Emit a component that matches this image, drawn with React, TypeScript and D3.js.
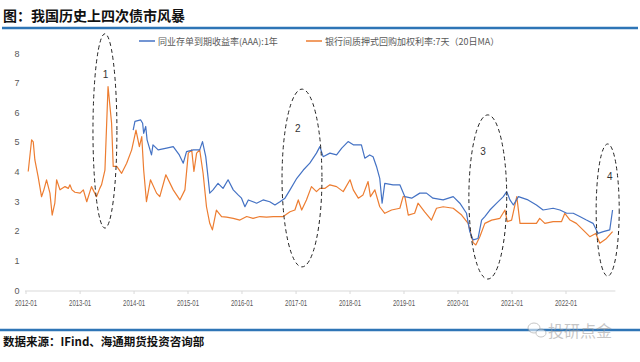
import React from "react";
import * as d3 from "d3";

const TITLE = "图：我国历史上四次债市风暴";
const SOURCE = "数据来源：IFind、海通期货投资咨询部";
const WATERMARK = "投研点金";
const SERIES_NAMES = ["同业存单到期收益率(AAA):1年", "银行间质押式回购加权利率:7天（20日MA）"];
const Y_TICKS = [0, 1, 2, 3, 4, 5, 6, 7, 8];
const X_TICKS = ["2012-01", "2013-01", "2014-01", "2015-01", "2016-01", "2017-01", "2018-01", "2019-01", "2020-01", "2021-01", "2022-01"];

// 同业存单到期收益率(AAA):1年
const ncdDates = [
  "2013-12-26", "2014-01-07", "2014-02-15", "2014-02-28", "2014-03-07", "2014-03-21", "2014-03-30", "2014-04-29",
  "2014-05-09", "2014-06-13", "2014-08-09", "2014-09-23", "2014-11-03", "2014-11-30", "2014-12-22", "2015-02-06",
  "2015-03-21", "2015-04-09", "2015-05-01", "2015-05-16", "2015-05-28", "2015-06-19", "2015-07-23", "2015-08-26",
  "2015-09-29", "2015-11-03", "2015-12-06", "2015-12-29", "2016-01-21", "2016-02-13", "2016-04-09", "2016-05-23",
  "2016-07-07", "2016-08-11", "2016-09-14", "2016-10-18", "2016-11-21", "2017-01-06", "2017-02-19", "2017-04-04",
  "2017-05-19", "2017-06-11", "2017-07-03", "2017-08-18", "2017-10-02", "2017-11-06", "2017-12-19", "2018-01-23",
  "2018-03-19", "2018-04-11", "2018-05-14", "2018-06-06", "2018-06-29", "2018-07-21", "2018-08-06", "2018-08-24",
  "2018-10-19", "2018-12-04", "2019-01-07", "2019-02-22", "2019-04-18", "2019-06-02", "2019-07-16", "2019-09-23",
  "2019-11-30", "2020-01-14", "2020-02-28", "2020-03-21", "2020-04-13", "2020-05-16", "2020-06-09", "2020-07-01",
  "2020-08-04", "2020-09-19", "2020-11-03", "2020-11-26", "2020-12-18", "2021-01-10", "2021-02-13", "2021-04-19",
  "2021-06-15", "2021-07-30", "2021-10-06", "2021-11-21", "2022-01-06", "2022-02-19", "2022-04-04", "2022-05-19",
  "2022-07-03", "2022-08-06", "2022-09-10", "2022-10-24", "2022-11-12",
];
const ncdValues = [
  5.4, 5.69, 5.74, 5.63, 5.29, 5.52, 5.07, 4.56,
  4.9, 4.73, 4.79, 4.84, 4.56, 4.28, 4.67, 4.73,
  4.73, 5.01, 4.5, 3.83, 3.27, 3.38, 3.6, 3.43,
  3.72, 3.38, 3.21, 3.1, 2.81, 3.04, 2.93, 3.04,
  2.98, 2.87, 2.98, 3.1, 3.38, 3.77, 4.05, 4.28,
  4.62, 4.84, 4.5, 4.62, 4.56, 4.79, 5.01, 4.9,
  4.9, 4.45, 4.56, 4.5, 4.17, 3.77, 2.93, 3.6,
  3.55, 3.55, 3.15, 3.1, 3.27, 3.27, 3.1, 3.04,
  3.15, 2.93, 2.59, 1.97, 1.69, 1.74, 2.36, 2.48,
  2.7, 2.93, 3.15, 3.32, 3.04, 2.87, 3.15, 3.04,
  2.87, 2.7, 2.76, 2.7, 2.59, 2.59, 2.48, 2.36,
  2.25, 1.91, 1.97, 2.03, 2.7,
];

// 银行间质押式回购加权利率:7天（20日MA）
const repoDates = [
  "2012-01-16", "2012-02-08", "2012-02-19", "2012-03-01", "2012-03-23", "2012-04-15", "2012-05-01", "2012-05-19",
  "2012-06-11", "2012-06-26", "2012-07-14", "2012-07-26", "2012-08-18", "2012-09-21", "2012-10-13", "2012-10-24",
  "2012-11-07", "2012-11-27", "2013-01-01", "2013-01-23", "2013-02-15", "2013-03-19", "2013-04-22", "2013-05-14",
  "2013-05-26", "2013-06-18", "2013-07-09", "2013-08-02", "2013-08-13", "2013-09-06", "2013-10-09", "2013-11-12",
  "2013-12-16", "2014-01-14", "2014-02-06", "2014-02-22", "2014-03-07", "2014-03-26", "2014-04-22", "2014-06-02",
  "2014-06-24", "2014-08-04", "2014-09-23", "2014-11-07", "2014-12-11", "2015-01-03", "2015-01-26", "2015-02-10",
  "2015-02-28", "2015-03-21", "2015-04-13", "2015-05-06", "2015-05-28", "2015-06-15", "2015-07-12", "2015-08-16",
  "2015-09-19", "2015-11-03", "2015-12-18", "2016-02-02", "2016-03-16", "2016-05-01", "2016-06-15", "2016-07-30",
  "2016-10-06", "2016-11-21", "2016-12-24", "2017-01-16", "2017-02-08", "2017-03-12", "2017-04-15", "2017-05-19",
  "2017-06-11", "2017-07-14", "2017-08-18", "2017-10-02", "2017-11-16", "2018-01-01", "2018-01-23", "2018-02-26",
  "2018-03-30", "2018-05-03", "2018-05-19", "2018-06-18", "2018-07-21", "2018-08-24", "2018-10-09", "2018-12-04",
  "2018-12-26", "2019-01-07", "2019-01-30", "2019-03-14", "2019-04-06", "2019-05-21", "2019-07-06", "2019-08-09",
  "2019-09-23", "2019-11-30", "2020-01-26", "2020-03-10", "2020-04-13", "2020-05-01", "2020-05-28", "2020-07-01",
  "2020-08-16", "2020-10-11", "2020-11-14", "2020-11-30", "2020-12-29", "2021-02-02", "2021-02-24", "2021-04-19",
  "2021-06-15", "2021-07-07", "2021-08-11", "2021-10-06", "2021-12-02", "2021-12-24", "2022-01-28", "2022-03-12",
  "2022-04-26", "2022-06-11", "2022-07-21", "2022-08-18", "2022-10-02", "2022-11-12",
];
const repoValues = [
  4.0, 5.07, 5.0, 4.39, 3.83, 3.15, 3.38, 3.72,
  3.27, 2.53, 2.93, 3.72, 3.38, 3.49, 3.43, 3.55,
  3.38, 3.3, 3.27, 3.38, 2.98, 3.49, 3.15, 3.43,
  3.55, 4.05, 6.87, 5.63, 4.17, 4.17, 3.94, 4.28,
  4.73, 5.4, 4.84, 5.18, 4.05, 2.98, 3.72, 3.27,
  3.15, 3.89, 3.38, 3.04, 3.38, 4.62, 4.73, 4.0,
  4.62, 4.73, 3.94, 2.81, 2.25, 2.03, 2.7, 2.48,
  2.46, 2.42, 2.36, 2.48, 2.42, 2.48, 2.46, 2.48,
  2.48, 2.64, 2.7, 3.04, 2.7, 3.04, 3.49, 3.32,
  3.43, 3.43, 3.55, 3.49, 3.32, 3.72, 3.38, 3.1,
  3.21, 3.66, 3.15, 3.38, 2.81, 2.59, 2.7, 2.76,
  3.15, 3.15, 2.53, 2.59, 2.93, 2.64, 2.36, 2.76,
  2.81, 2.76, 2.53, 2.25, 1.6, 1.52, 1.8, 2.25,
  2.36, 2.42, 2.7, 2.31, 2.36, 3.15, 2.25, 2.25,
  2.25, 2.42, 2.25, 2.31, 2.31, 2.59, 2.36, 2.25,
  2.03, 1.8, 1.91, 1.58, 1.74, 1.97,
];

// 四次债市风暴
const stormLabels = ["1", "2", "3", "4"];
const stormCenters = ["2013-06-18", "2017-02-10", "2020-07-21", "2022-10-10"];
const stormCenterValues = [5.37, 3.78, 3.14, 2.7];
const stormHalfDays = [81, 135, 128, 78];
const stormHalfValues = [3.28, 3.0, 2.77, 2.23];
const stormLabelDates = ["2013-06-22", "2017-01-13", "2020-06-18", "2022-10-24"];
const stormLabelValues = [7.3, 5.47, 4.7, 3.85];

const parse = d3.timeParse("%Y-%m-%d");
const parseMonth = d3.timeParse("%Y-%m");

const W = 640;
const H = 362;
const BLUE = "#4472c4";
const ORANGE = "#ed7d31";
const RULE = "#2e75b6";
const CJK = "'Noto Sans CJK SC', 'Noto Sans', sans-serif";
const AXIS_FONT = "'Liberation Sans', 'DejaVu Sans', sans-serif";

export default function App() {
  const x = d3
    .scaleTime()
    .domain([parse("2012-01-01")!, parse("2022-01-01")!])
    .range([26, 566]);
  const y = d3.scaleLinear().domain([0, 8]).range([290, 53]);

  const ncd = ncdDates.map((d, i) => ({ date: parse(d)!, v: ncdValues[i] }));
  const repo = repoDates.map((d, i) => ({ date: parse(d)!, v: repoValues[i] }));
  const line = d3
    .line<{ date: Date; v: number }>()
    .x((d) => x(d.date))
    .y((d) => y(d.v));

  const axisEnd = x(parse("2022-12-01")!);

  return (
    <div style={{ position: "absolute", left: 0, top: 0, width: W, height: H, background: "#fff" }}>
      <svg width={W} height={H} viewBox={`0 0 ${W} ${H}`} style={{ display: "block" }}>
        <rect x={0} y={0} width={W} height={H} fill="#fff" />
        {/* title */}
        <text x={3} y={21} fontFamily={CJK} fontWeight={700} fontSize={14} fill="#111">
          {TITLE}
        </text>
        <line x1={2} x2={638} y1={28} y2={28} stroke={RULE} strokeWidth={2.5} />

        {/* legend */}
        <line x1={139} x2={155} y1={41} y2={41} stroke={BLUE} strokeWidth={1.5} />
        <text x={158} y={44.5} fontFamily={CJK} fontSize={9} fill="#595959">
          {SERIES_NAMES[0]}
        </text>
        <line x1={306} x2={322} y1={41} y2={41} stroke={ORANGE} strokeWidth={1.5} />
        <text x={325} y={44.5} fontFamily={CJK} fontSize={9} fill="#595959">
          {SERIES_NAMES[1]}
        </text>

        {/* y axis labels */}
        {Y_TICKS.map((t) => (
          <text key={t} x={17} y={y(t) + 3.5} textAnchor="middle" fontFamily={AXIS_FONT} fontSize={9} fill="#595959">
            {t}
          </text>
        ))}

        {/* x axis */}
        <line x1={25} x2={axisEnd} y1={291} y2={291} stroke="#d9d9d9" strokeWidth={1} />
        {X_TICKS.map((t) => {
          const xx = x(parseMonth(t)!);
          return (
            <g key={t}>
              <line x1={xx} x2={xx} y1={291} y2={294} stroke="#d9d9d9" strokeWidth={1} />
              <text
                x={xx}
                y={306}
                textAnchor="middle"
                fontFamily={AXIS_FONT}
                fontSize={9}
                textLength={22}
                lengthAdjust="spacingAndGlyphs"
                fill="#595959"
              >
                {t}
              </text>
            </g>
          );
        })}

        {/* series */}
        <path d={line(repo) || ""} fill="none" stroke={ORANGE} strokeWidth={1.2} strokeLinejoin="round" />
        <path d={line(ncd) || ""} fill="none" stroke={BLUE} strokeWidth={1.2} strokeLinejoin="round" />

        {/* storm ellipses */}
        {stormLabels.map((lab, i) => {
          const c = parse(stormCenters[i])!;
          const cx = x(c);
          const rx = x(d3.timeDay.offset(c, stormHalfDays[i])) - cx;
          const cy = y(stormCenterValues[i]);
          const ry = y(stormCenterValues[i] - stormHalfValues[i]) - cy;
          return (
            <g key={lab}>
              <ellipse cx={cx} cy={cy} rx={rx} ry={ry} fill="none" stroke="#222" strokeWidth={1} strokeDasharray="4,3" />
              <text
                x={x(parse(stormLabelDates[i])!)}
                y={y(stormLabelValues[i]) + 4}
                textAnchor="middle"
                fontFamily={AXIS_FONT}
                fontSize={10}
                fill="#333"
              >
                {lab}
              </text>
            </g>
          );
        })}

        {/* footer */}
        <line x1={0} x2={640} y1={330} y2={330} stroke={RULE} strokeWidth={2.5} />
        <text x={3} y={346} fontFamily={CJK} fontWeight={700} fontSize={11.5} fill="#111">
          {SOURCE}
        </text>
        <g opacity={0.55}>
          <ellipse cx={534} cy={328} rx={6} ry={5} fill="#fff" stroke="#999" strokeWidth={1} />
          <ellipse cx={541} cy={333} rx={5} ry={4} fill="#fff" stroke="#999" strokeWidth={1} />
          <text x={548} y={337} fontFamily={CJK} fontSize={16} fill="#999">
            {WATERMARK}
          </text>
        </g>
      </svg>
    </div>
  );
}
